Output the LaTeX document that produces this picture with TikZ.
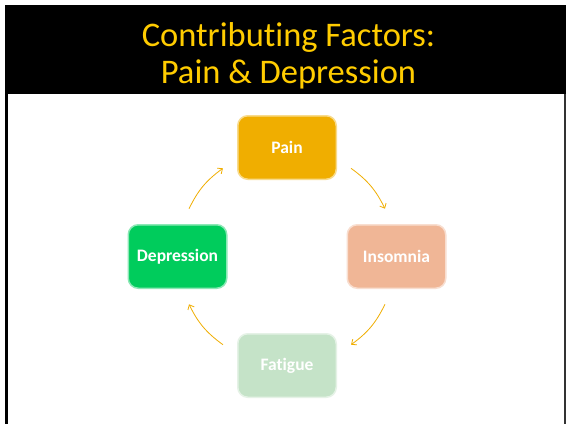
\documentclass[tikz,border=0pt]{standalone}
\usepackage{fontspec}
\setmainfont{Carlito}[Ligatures=CommonOff]
\usetikzlibrary{arrows.meta,calc}
\definecolor{titlegold}{RGB}{255,204,0}
\definecolor{painc}{RGB}{240,174,0}
\definecolor{depc}{RGB}{0,204,92}
\definecolor{insc}{RGB}{240,182,150}
\definecolor{fatc}{RGB}{197,227,200}
\definecolor{arrc}{RGB}{240,174,0}
\tikzset{
  factor/.style={rounded corners=10pt, minimum width=98.5pt, minimum height=63.5pt,
    line width=1.5pt, text=white, font=\fontsize{17.5}{20}\selectfont\bfseries, inner sep=0pt},
  cyc/.style={draw=arrc, line width=0.8pt, -{Straight Barb[length=4pt,width=7pt]}}
}
\begin{document}
\begin{tikzpicture}[x=1pt,y=1pt]
\useasboundingbox (0,0) rectangle (566,-424);
\fill[white] (0,0) rectangle (566,-424);
\fill[black] (5,-5) rectangle (566,-94);
\fill[black] (5,-94) rectangle (7.5,-424);
\fill[black!80] (564,-94) rectangle (565.5,-424);
\node[text=titlegold, draw=titlegold, line width=0pt, draw opacity=0, align=center, font=\fontsize{34.5}{37}\selectfont] (title) at (288.5,-55.5)
  {Contributing Factors:\\Pain \& Depression};
\node[factor, fill=painc, draw=painc!45!white] (pain) at (287,-147.5) {Pain};
\node[factor, fill=insc, draw=insc!45!white] (ins) at (396.5,-256.5) {Insomnia};
\node[factor, fill=fatc, draw=fatc!45!white] (fat) at (287,-365.5) {Fatigue};
\node[factor, fill=depc, draw=depc!45!white] (dep) at (177.5,-256.5) {Depression};
\coordinate (c) at (287,-256.5);
\coordinate (d1) at ($(c)+(154:109)$);
\coordinate (p0) at ($(c)+(126:109)$);
\coordinate (p1) at ($(c)+(54:109)$);
\coordinate (i0) at ($(c)+(26:109)$);
\coordinate (i1) at ($(c)+(-26:109)$);
\coordinate (f0) at ($(c)+(-54:109)$);
\coordinate (f1) at ($(c)+(-126:109)$);
\coordinate (d0) at ($(c)+(-154:109)$);
\draw[cyc] (d1) to[bend left=14] (p0);
\draw[cyc] (p1) to[bend left=14] (i0);
\draw[cyc] (i1) to[bend left=14] (f0);
\draw[cyc] (f1) to[bend left=14] (d0);
\end{tikzpicture}
\end{document}
